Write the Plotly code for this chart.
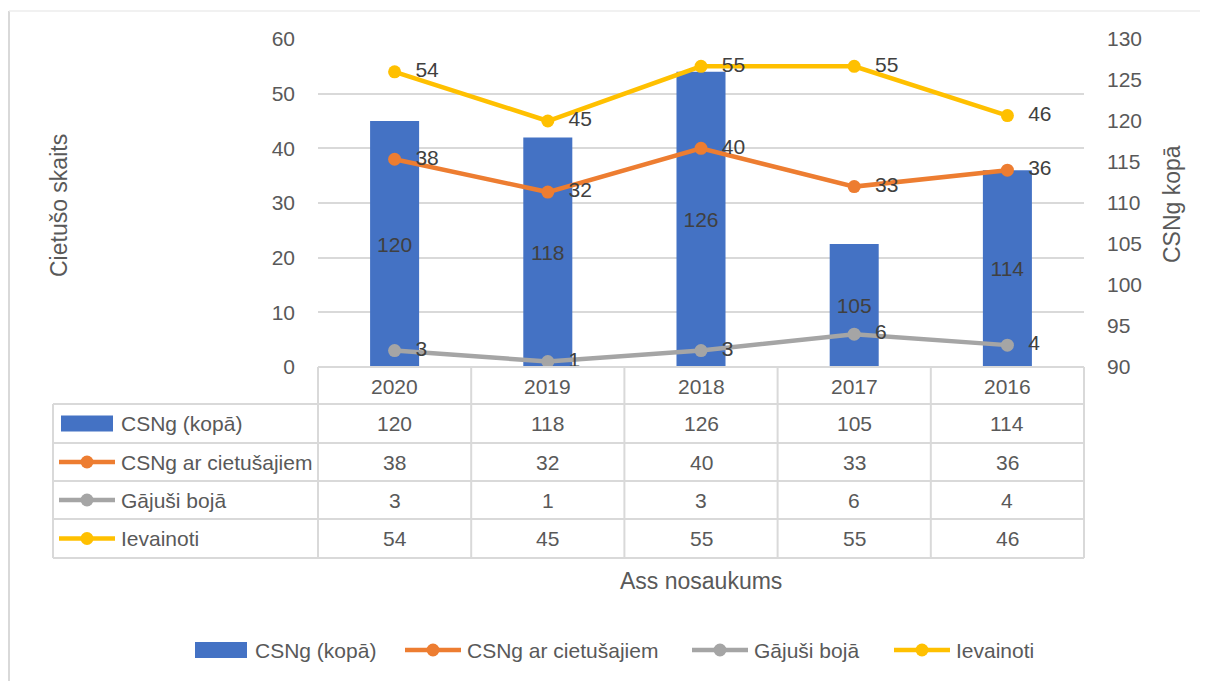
import plotly.graph_objects as go

# ---- data ----
years = ["2020", "2019", "2018", "2017", "2016"]
csng_total = [120, 118, 126, 105, 114]      # right axis, bars
csng_injured = [38, 32, 40, 33, 36]         # left axis, lines
killed = [3, 1, 3, 6, 4]
wounded = [54, 45, 55, 55, 46]

series_names = ["CSNg (kopā)", "CSNg ar cietušajiem", "Gājuši bojā", "Ievainoti"]
series_colors = ["#4472C4", "#ED7D31", "#A5A5A5", "#FFC000"]

left_range = [0, 60]
right_range = [90, 130]

# ---- layout helpers (page pixel -> paper) ----
PAGE_W, PAGE_H = 1208, 681
OFF = 8                               # default body margin of the html page
W, H = PAGE_W - OFF, PAGE_H - OFF
L, R, T, B = 318, 1084, 39, 367       # plot area in page pixels


def px(x):
    return (x - L) / (R - L)


def py(y):
    return (B - y) / (B - T)


FONT = "Liberation Sans"
TXT = "#595959"
LBL = "#404040"
GRID = "#D9D9D9"
FS = 21
PAD = "\u00a0\u00a0"

fig = go.Figure()

# bars on the main (right side) axis so that the lines overlay them
fig.add_trace(go.Bar(
    x=years, y=[v - right_range[0] for v in csng_total], base=right_range[0],
    width=0.32, name=series_names[0],
    marker=dict(color=series_colors[0], line=dict(width=0)),
    text=csng_total, textposition="inside", insidetextanchor="middle",
    textangle=0, constraintext="none",
    textfont=dict(family=FONT, size=FS, color=LBL),
    yaxis="y", showlegend=False,
))

for name, vals, color in zip(series_names[1:], [csng_injured, killed, wounded], series_colors[1:]):
    fig.add_trace(go.Scatter(
        x=years, y=vals, name=name, mode="lines+markers+text",
        line=dict(color=color, width=4.5),
        marker=dict(color=color, size=13),
        text=vals, texttemplate=PAD + "%{text}", textposition="middle right",
        textfont=dict(family=FONT, size=FS, color=LBL),
        yaxis="y2", showlegend=False, cliponaxis=False,
    ))

shapes = []
annotations = []

# outer chart border (left and top visible)
shapes.append(dict(type="line", xref="paper", yref="paper", x0=px(9), x1=px(9), y0=py(11), y1=py(PAGE_H),
                   line=dict(color="#D9D9D9", width=2)))
shapes.append(dict(type="line", xref="paper", yref="paper", x0=px(9), x1=px(PAGE_W), y0=py(11), y1=py(11),
                   line=dict(color="#EDEDED", width=1.5)))

# ---- data table ----
col_edges = [L + i * (R - L) / len(years) for i in range(len(years) + 1)]
row_edges = [367, 404, 443, 481, 519, 558]
tbl_left = 53
for i, yv in enumerate(row_edges):
    x_start = L if i == 0 else tbl_left
    shapes.append(dict(type="line", xref="paper", yref="paper", x0=px(x_start), x1=px(R),
                       y0=py(yv), y1=py(yv), line=dict(color=GRID, width=2)))
for xv in col_edges:
    shapes.append(dict(type="line", xref="paper", yref="paper", x0=px(xv), x1=px(xv),
                       y0=py(row_edges[0]), y1=py(row_edges[-1]), line=dict(color=GRID, width=2)))
shapes.append(dict(type="line", xref="paper", yref="paper", x0=px(tbl_left), x1=px(tbl_left),
                   y0=py(row_edges[1]), y1=py(row_edges[-1]), line=dict(color=GRID, width=2)))


def add_key(kind, color, xc, yc):
    if kind == "bar":
        shapes.append(dict(type="rect", xref="paper", yref="paper", x0=px(xc - 26), x1=px(xc + 26),
                           y0=py(yc + 8), y1=py(yc - 8), fillcolor=color, line=dict(width=0)))
    else:
        shapes.append(dict(type="line", xref="paper", yref="paper", x0=px(xc - 28), x1=px(xc + 28),
                           y0=py(yc), y1=py(yc), line=dict(color=color, width=4.5)))
        shapes.append(dict(type="circle", xref="paper", yref="paper", x0=px(xc - 6.5), x1=px(xc + 6.5),
                           y0=py(yc + 6.5), y1=py(yc - 6.5), fillcolor=color, line=dict(width=0)))


def add_text(text, x, y, xref="paper", xanchor="center", angle=0, color=TXT, size=FS):
    annotations.append(dict(text=text, x=x, y=y, xref=xref, yref="paper", xanchor=xanchor,
                            yanchor="middle", showarrow=False, textangle=angle,
                            font=dict(family=FONT, size=size, color=color)))


# header row (x given as category index)
for ci, yr in enumerate(years):
    add_text(yr, ci, py((row_edges[0] + row_edges[1]) / 2 + 1), xref="x")

table_rows = [csng_total, csng_injured, killed, wounded]
kinds = ["bar", "line", "line", "line"]
for r, (name, vals, color, kind) in enumerate(zip(series_names, table_rows, series_colors, kinds)):
    yc = (row_edges[r + 1] + row_edges[r + 2]) / 2
    add_key(kind, color, 87, yc)
    add_text(name, px(119), py(yc), xanchor="left")
    for ci, v in enumerate(vals):
        add_text(str(v), ci, py(yc), xref="x")

# axis titles
add_text("Cietušo skaits", px(59), py(206), angle=-90, size=23)
add_text("CSNg kopā", px(1172), py(204), angle=-90, size=23)
add_text("Ass nosaukums", px(701), py(581), size=23)

# bottom legend
leg_y = 650
for name, color, kind, xc in zip(series_names, series_colors, kinds, [221, 433, 720, 922]):
    add_key(kind, color, xc, leg_y)
    add_text(name, px(xc + 32), py(leg_y), xanchor="left")

fig.update_layout(
    width=W, height=H,
    margin=dict(l=L - OFF, r=PAGE_W - R, t=T - OFF, b=PAGE_H - B),
    paper_bgcolor="white", plot_bgcolor="white",
    font=dict(family=FONT, size=FS, color=TXT),
    showlegend=False,
    xaxis=dict(type="category", range=[-0.5, 4.5], showticklabels=False, showgrid=False,
               zeroline=False, showline=False, ticks=""),
    yaxis=dict(side="right", range=right_range, dtick=5, showgrid=False, zeroline=False,
               showline=False, ticks="", ticklabelstandoff=22,
               tickfont=dict(family=FONT, size=FS, color=TXT)),
    yaxis2=dict(side="left", overlaying="y", range=left_range, dtick=10, showgrid=True,
                gridcolor=GRID, gridwidth=2, zeroline=False, showline=False, ticks="",
                ticklabelstandoff=22, tickfont=dict(family=FONT, size=FS, color=TXT)),
    shapes=shapes,
    annotations=annotations,
)

fig.write_html("out.html")
